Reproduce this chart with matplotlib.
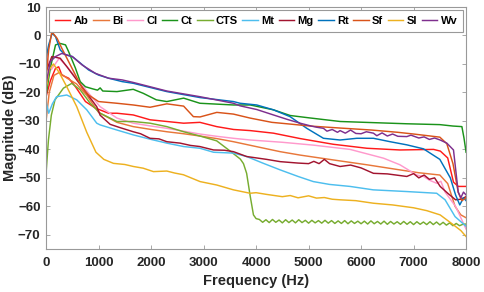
"""Frequency response magnitude of the eleven sound classes."""
import numpy as np
import matplotlib
matplotlib.use("Agg")
import matplotlib.pyplot as plt

plt.rcParams['font.family'] = ['Liberation Sans', 'DejaVu Sans']
plt.rcParams['font.weight'] = 'bold'

# ---- data (frequency in Hz, magnitude in dB) ----
ab_hz = [0, 80, 180, 240, 300, 430, 560, 750, 940, 1190, 1350, 1660, 1980, 2300, 2620,
         2930, 3250, 3570, 3890, 4330, 4840, 5470, 6110, 6740, 7380, 7510, 7650, 7760,
         7850, 8000]
ab_db = [-21.5, -16, -11.5, -11, -13.9, -15, -18, -23.2, -25.5, -27.3, -27.3, -27.9, -29.6,
         -30.2, -30.8, -30.5, -32, -33, -33.4, -34.3, -36.2, -38.2, -39.6, -40.2, -40, -40.6,
         -43, -51.5, -53, -53]

bi_hz = [0, 60, 150, 250, 400, 580, 775, 1000, 1350, 1660, 2000, 2300, 2620, 2930, 3250,
         3570, 4000, 4460, 4840, 5470, 6110, 6740, 7100, 7500, 7650, 7790, 7900, 8000]
bi_db = [-30, -20, -14, -13, -15, -17, -21, -27, -30.5, -32, -33, -33.8, -34.5, -35.3, -36.2,
         -37.3, -39, -40.8, -42, -43.7, -45.4, -47.2, -48.2, -49, -52, -60, -63, -64]

cl_hz = [0, 40, 100, 250, 400, 580, 775, 1030, 1350, 1660, 2000, 2300, 2620, 2930, 3250,
         3570, 3890, 4500, 5090, 5790, 6430, 6740, 7060, 7190, 7300, 7440, 7520, 7600, 7800,
         8000]
cl_db = [-3, -10, -12, -8, -11, -15, -19.5, -25, -29, -30.8, -31.8, -32.6, -33.6, -34.6,
         -35.4, -36.1, -36.7, -37.5, -38.5, -40, -43.1, -45.4, -49, -49.5, -50.8, -51.9,
         -51.2, -55, -60, -68]

ct_hz = [0, 80, 180, 270, 370, 430, 560, 650, 750, 880, 980, 1030, 1080, 1350, 1660, 1850,
         2100, 2300, 2620, 2930, 3570, 3890, 4330, 4650, 5000, 5600, 6230, 6870, 7500, 7750,
         7920, 7960, 8000]
ct_db = [-21, -11.5, -3.3, -2.8, -3.3, -5.7, -11.5, -16.2, -18, -18.7, -19.2, -18.4, -19.5,
         -19.7, -18.9, -20.3, -22.6, -23.2, -22, -23.8, -24.4, -24.4, -26.1, -28.1, -28.9,
         -30.2, -30.6, -31, -31.3, -31.8, -32, -36, -41]

cts_hz = [0, 45, 100, 170, 330, 490, 650, 840, 1030, 1350, 1660, 1980, 2300, 2620, 2930,
          3250, 3500, 3700, 3760, 3820, 3890, 3950, 4000]
cts_db = [-48.4, -36.7, -28, -22.6, -18.5, -16.8, -19.1, -23.8, -27.3, -30.2, -30.2, -30.8,
          -32, -33.8, -35.3, -37, -40.5, -43.4, -45, -48.4, -56.6, -63, -64.3]
# ripple above 4 kHz, one value every 62.5 Hz
cts_tail_db = [-64.6, -65.6, -64.7, -65.7, -64.6, -65.6, -64.8, -65.8, -64.7, -65.7, -64.8,
               -65.8, -64.7, -65.7, -64.9, -65.9, -64.9, -65.8, -65.0, -65.9, -64.9, -65.9,
               -65.0, -66.0, -65.1, -66.0, -65.0, -66.1, -65.1, -66.0, -65.2, -66.1, -65.2,
               -66.2, -65.1, -66.1, -65.3, -66.2, -65.2, -66.3, -65.3, -66.2, -65.4, -66.3,
               -65.3, -66.3, -65.4, -66.4, -65.4, -66.3, -65.5, -66.4, -65.4, -66.4, -65.5,
               -66.5, -65.6, -66.6, -65.8, -66.8, -66.0, -66.8, -66.3, -66.2]

mt_hz = [0, 50, 120, 200, 394, 584, 775, 965, 1030, 1350, 1660, 2000, 2300, 2620, 2930,
         3190, 3570, 3820, 4140, 4460, 4800, 5090, 5400, 5790, 6230, 6870, 7440, 7600, 7790,
         8000]
mt_db = [-23.2, -27.3, -24, -21.5, -20.9, -22.6, -26.1, -30.8, -31.4, -33.2, -34.9, -36.5,
         -37.8, -39, -39.6, -41, -41.3, -42.5, -44.9, -47.2, -49.5, -51.3, -52.3, -53, -54.2,
         -54.8, -55.4, -57.7, -63.6, -67]

mg_hz = [0, 110, 270, 394, 584, 775, 965, 1030, 1220, 1400, 1660, 1800, 1980, 2150, 2300,
         2553, 2750, 2930, 3190, 3400, 3570, 3820, 4200, 4460, 4800, 5000, 5100, 5200, 5300,
         5400, 5600, 5800, 6000, 6235, 6500, 6871, 7000, 7100, 7200, 7300, 7400, 7506, 7650,
         7800, 7900, 8000]
mg_db = [-12.7, -7.4, -8, -10.9, -15.6, -20.3, -25, -28, -31.2, -32.3, -33.8, -34.5, -36.1,
         -36.3, -37.3, -37.8, -38.6, -39, -40.2, -40.3, -40.8, -42.5, -43.5, -44.3, -44.8, -45,
         -44.2, -45, -43.5, -45, -46, -45.5, -46.5, -48.4, -48.6, -49.5, -48.5, -50, -49,
         -50.5, -50, -53, -55.4, -57.7, -57.5, -56.6]

rt_hz = [0, 50, 115, 180, 270, 370, 500, 620, 810, 1000, 1190, 1450, 1663, 2300, 2933, 3568,
         3695, 4013, 4330, 4648, 4966, 5283, 5600, 5918, 6235, 6553, 6871, 7188, 7500, 7700,
         7800, 7880, 7950, 8000]
rt_db = [-8, -3.3, 0.8, -0.4, -5.1, -6.8, -7.4, -9.2, -12.1, -13.9, -15, -16.2, -16.8, -19.7,
         -21.8, -23.2, -23.8, -24.4, -26.1, -28.5, -32.6, -36.1, -36.7, -36.1, -36.1, -37.3,
         -38.4, -39.8, -43.5, -50, -56, -59.5, -57, -58]

sf_hz = [0, 50, 110, 210, 300, 430, 560, 690, 810, 1000, 1350, 1660, 1980, 2300, 2620, 2806,
         2933, 3252, 3568, 3886, 4300, 4700, 5029, 5600, 6200, 6700, 7000, 7500, 7633, 7750,
         7850, 7920, 8000]
sf_db = [-15, -5, 1.3, -1, -4.5, -9.2, -13.9, -18.5, -20.9, -23.2, -23.8, -24.4, -25.2, -24,
         -24.8, -28.5, -28.6, -27, -27.6, -29, -30.5, -31.2, -31.8, -32.5, -33.2, -34, -34.6,
         -35.7, -38, -45, -55, -58, -57]

sl_hz = [0, 60, 140, 250, 394, 584, 775, 950, 1100, 1283, 1500, 1663, 1850, 2045, 2300,
         2450, 2616, 2933, 3250, 3568, 3886, 4000, 4200, 4500, 4650, 4800, 5000, 5150, 5300,
         5450, 5600, 5900, 6235, 6600, 7000, 7250, 7506, 7760, 7900, 8000]
sl_db = [-19, -12, -10, -13, -18, -25, -34, -41, -43.5, -44.9, -45.3, -46, -46.6, -47.8,
         -47.6, -48.3, -48.9, -51.3, -52.5, -54.2, -55.4, -55.2, -55.8, -56.6, -56.2, -57,
         -56.3, -57.1, -56.9, -57.5, -57.7, -58, -58.9, -59.5, -60.5, -61.5, -63, -66.5, -68.5,
         -70.6]

wv_hz = [0, 80, 180, 300, 500, 690, 940, 1190, 1450, 1663, 2300, 2933, 3568, 3695, 4013, 4330,
         4600, 4839, 5050, 5150, 5283, 5350, 5450, 5550, 5600, 5700, 5800, 5900, 6000, 6100,
         6235, 6300, 6400, 6500, 6600, 6700, 6871, 6950, 7100, 7200, 7300, 7400, 7506, 7633,
         7760, 7850, 7900, 7950, 8000]
wv_db = [-17, -9.2, -7.4, -6.3, -7.4, -10.4, -13.3, -15, -15.6, -16.5, -19.5, -21.5, -23.8,
         -24.7, -26, -27.9, -29.5, -30.8, -31.8, -32.2, -32.6, -33.6, -33.0, -34.0, -33.4,
         -34.3, -33.2, -34.4, -34.5, -33.8, -34.3, -35.2, -34.2, -35.3, -34.6, -35.4, -35.5,
         -35.0, -36.0, -35.6, -36.5, -36.0, -36.7, -37.8, -40.2, -55, -57, -55, -56]

cts_hz = cts_hz + list(np.arange(1, len(cts_tail_db) + 1) * 62.5 + 4000)
cts_db = cts_db + cts_tail_db

labels = ['Ab', 'Bi', 'Cl', 'Ct', 'CTS', 'Mt', 'Mg', 'Rt', 'Sf', 'Sl', 'Wv']
series = [(ab_hz, ab_db), (bi_hz, bi_db), (cl_hz, cl_db), (ct_hz, ct_db), (cts_hz, cts_db),
          (mt_hz, mt_db), (mg_hz, mg_db), (rt_hz, rt_db), (sf_hz, sf_db), (sl_hz, sl_db),
          (wv_hz, wv_db)]
colors = ['#FF1A1A', '#E8773A', '#FF99CC', '#1A931A', '#77AC30', '#4DBEEE', '#A2142F',
          '#0072BD', '#D95319', '#EDB120', '#7E2F8E']

fig = plt.figure(figsize=(4.85, 2.92), dpi=100)
ax = fig.add_axes([0.095, 0.147, 0.866, 0.829])

for (hz, db), lab, col in zip(series, labels, colors):
    ax.plot(hz, db, color=col, linewidth=1.05, label=lab)

ax.set_xlim(0, 8000)
ax.set_ylim(-75, 10)
ax.set_xticks(range(0, 8001, 1000))
ax.set_yticks(range(-70, 11, 10))
ax.tick_params(direction='in', length=3, width=0.6, top=True, right=True,
               labelsize=9.5, colors='#999999', labelcolor='#262626')
ax.tick_params(axis='x', pad=6)
ax.tick_params(axis='y', pad=4)
for s in ax.spines.values():
    s.set_color('#999999')
    s.set_linewidth(0.8)
for t in ax.get_xticklabels() + ax.get_yticklabels():
    t.set_fontweight('bold')

ax.set_xlabel('Frequency (Hz)', fontsize=10.5, fontweight='bold', color='#262626', labelpad=3)
ax.set_ylabel('Magnitude (dB)', fontsize=10.5, fontweight='bold', color='#262626', labelpad=0.5)

leg = ax.legend(loc='upper center', ncol=11, fontsize=8, handlelength=1.4, handletextpad=0.3,
                columnspacing=0.4, borderpad=0.55, borderaxespad=0.25, fancybox=False,
                framealpha=1, edgecolor='#999999', bbox_to_anchor=(0.5, 1.0))
leg.get_frame().set_linewidth(0.8)
for t in leg.get_texts():
    t.set_fontweight('bold')

fig.savefig('out.png', dpi=100)
plt.close(fig)
